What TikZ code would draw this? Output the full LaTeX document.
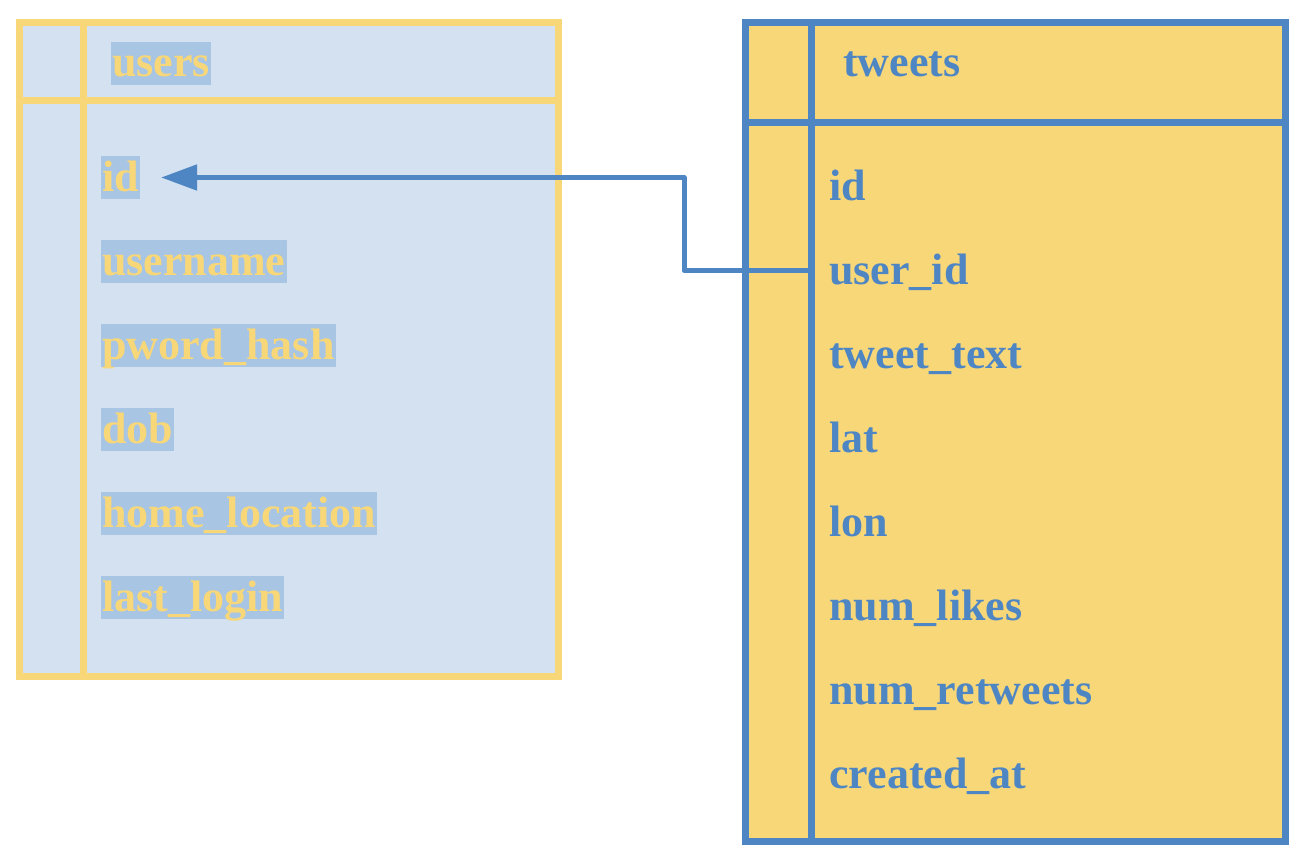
\documentclass[tikz,border=0pt]{standalone}
\usepackage{fontspec}
\setmainfont{Liberation Serif}
\usetikzlibrary{arrows.meta}
\definecolor{ylw}{HTML}{F8D778}
\definecolor{lblue}{HTML}{D3E1F1}
\definecolor{hlblue}{HTML}{A8C5E4}
\definecolor{blu}{HTML}{4E86C4}
\begin{document}
\begin{tikzpicture}[x=1pt,y=-1pt,
  utab/.style={draw=ylw, fill=lblue, line width=7pt, inner sep=0pt, anchor=north west},
  ttab/.style={draw=blu, fill=ylw, line width=7pt, inner sep=0pt, anchor=north west},
  uline/.style={draw=ylw, line width=7pt},
  tline/.style={draw=blu, line width=7pt},
  fieldfont/.style={font=\bfseries\fontsize{44}{44}\selectfont, inner xsep=1pt, inner ysep=2pt, text height=33pt, text depth=6pt, anchor=base west},
  ufield/.style={fieldfont, fill=hlblue, text=ylw},
  tfield/.style={fieldfont, text=blu},
  link/.style={draw=blu, line width=5pt, line join=round, -{Triangle[length=36pt,width=25pt]}}
]
\useasboundingbox (0,0) rectangle (1300,856);
% users table
\node[utab, minimum width=539.5pt, minimum height=653.5pt] (users) at (15.5,19.5) {};
\draw[uline] (83,19.5) -- (83,673);
\draw[uline] (15.5,101) -- (555,101);
\node[ufield] (uhead) at (111,77) {users};
\node[ufield] (uid) at (101,191) {id};
\node[ufield] (uname) at (101,275) {username};
\node[ufield] (upw) at (101,359) {pword\_hash};
\node[ufield] (udob) at (101,443) {dob};
\node[ufield] (uhome) at (101,527) {home\_location};
\node[ufield] (ulast) at (101,611) {last\_login};
% tweets table
\node[ttab, minimum width=540pt, minimum height=818.5pt] (tweets) at (742,19.5) {};
\draw[tline] (811,19.5) -- (811,838);
\draw[tline] (742,122.5) -- (1282,122.5);
\node[tfield] (thead) at (842,77) {tweets};
\node[tfield] (tid) at (828,200) {id};
\node[tfield] (tuid) at (828,284) {user\_id};
\node[tfield] (ttext) at (828,368) {tweet\_text};
\node[tfield] (tlat) at (828,452) {lat};
\node[tfield] (tlon) at (828,536) {lon};
\node[tfield] (tlikes) at (828,620) {num\_likes};
\node[tfield] (trt) at (828,704) {num\_retweets};
\node[tfield] (tcreated) at (828,788) {created\_at};
% connector
\draw[link] ([xshift=-16pt]tuid.west) -- ++(-128,0) |- ([xshift=21pt]uid.east);
\end{tikzpicture}
\end{document}
